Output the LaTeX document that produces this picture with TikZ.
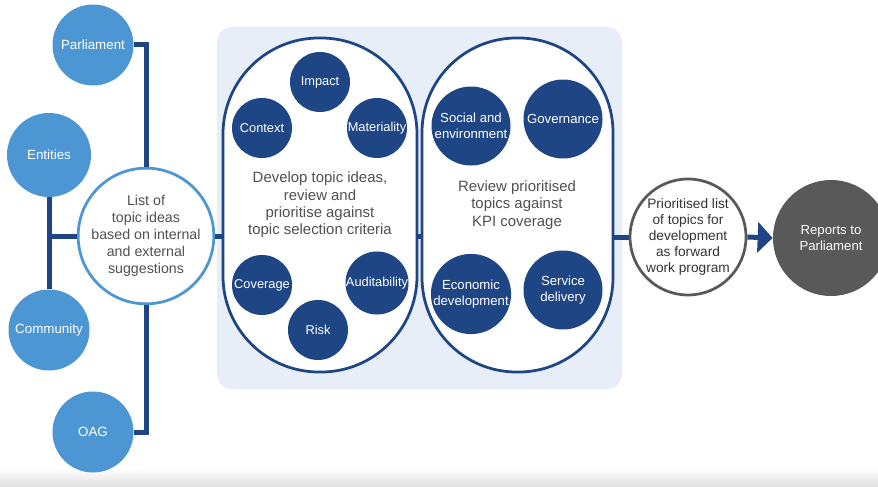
\documentclass[tikz,border=0pt]{standalone}
\usepackage{fontspec}
\setmainfont{Liberation Sans}
\usetikzlibrary{arrows.meta}

\definecolor{srcblue}{RGB}{76,150,211}
\definecolor{navy}{RGB}{30,70,132}
\definecolor{panelbg}{RGB}{232,238,247}
\definecolor{darkgrey}{RGB}{89,89,89}
\definecolor{textgrey}{RGB}{80,80,80}

\tikzset{
  source/.style={circle, fill=srcblue, text=white, minimum size=1.62cm, inner sep=0pt,
    font=\fontsize{7.6}{9}\selectfont},
  criterion/.style={circle, fill=navy, text=white, minimum size=1.2cm, inner sep=0pt,
    font=\fontsize{7.3}{8.6}\selectfont},
  theme/.style={circle, fill=navy, text=white, minimum size=1.58cm, inner sep=0pt, align=center,
    font=\fontsize{7.5}{8.8}\selectfont},
  capsule/.style={draw=navy, line width=0.055cm, fill=white, rectangle, inner sep=0pt},
  link/.style={draw=navy, line width=0.1cm},
}

\begin{document}
\begin{tikzpicture}
            \useasboundingbox (0,0) rectangle (17.560000,9.720000);
            % Shadow along the lower edge
            \shade [top color=white, bottom color=black!12] (0,0) rectangle (17.560000,0.340000);%

            % Drawing panel behind the two stages
            \fill [panelbg, rounded corners=0.300000cm] (4.340000,1.940000) rectangle (12.440000,9.180000);%

            % Marking the four sources
            \node [source] (par) at (1.860000,8.820000) {Parliament};%
            \node [source, minimum size=1.68cm] (ent) at (0.980000,6.620000) {Entities};%
            \node [source] (com) at (0.980000,3.120000) {Community};%
            \node [source] (oag) at (1.860000,1.080000) {OAG};%

            % Marking the list of ideas
            \node [circle, draw=srcblue, line width=0.055cm, fill=white, minimum size=2.68cm, inner sep=0pt,
              align=center, text=textgrey, font=\fontsize{8.1}{9.6}\selectfont]
              (list) at (2.920000,5.000000) {List of\\topic ideas\\based on internal\\and external\\suggestions};%

            % Drawing the two stages
            \node [capsule, minimum width=3.880000cm, minimum height=6.680000cm, rounded corners=1.920000cm]
              (dev) at (6.400000,5.620000) {};%
            \node [capsule, minimum width=3.820000cm, minimum height=6.680000cm, rounded corners=1.890000cm]
              (rev) at (10.350000,5.620000) {};%

            % Marking the selection criteria
            \node [criterion] (impact) at (6.400000,8.080000) {Impact};%
            \node [criterion] (context) at (5.240000,7.160000) {Context};%
            \node [criterion] (material) at (7.540000,7.160000) {Materiality};%
            \node [criterion] (coverage) at (5.240000,4.020000) {Coverage};%
            \node [criterion] (audit) at (7.540000,4.060000) {Auditability};%
            \node [criterion] (risk) at (6.360000,3.120000) {Risk};%
            \node [align=center, text=textgrey, font=\fontsize{8.5}{9.9}\selectfont] (devtext) at (6.400000,5.620000)
              {Develop topic ideas,\\review and\\prioritise against\\topic selection criteria};%

            % Marking the KPI themes
            \node [theme] (social) at (9.420000,7.200000) {Social and\\environment};%
            \node [theme] (gov) at (11.260000,7.340000) {Governance};%
            \node [theme] (econ) at (9.420000,3.840000) {Economic\\development};%
            \node [theme] (service) at (11.260000,3.920000) {Service\\delivery};%
            \node [align=center, text=textgrey, font=\fontsize{8.5}{9.9}\selectfont] (revtext) at (10.340000,5.620000)
              {Review prioritised\\topics against\\KPI coverage};%

            % Marking the work program and the reports
            \node [circle, draw=darkgrey, line width=0.055cm, fill=white, minimum size=2.320000cm, inner sep=0pt,
              align=center, text=black!80, font=\fontsize{7.8}{9.1}\selectfont]
              (prio) at (13.760000,4.980000) {Prioritised list\\of topics for\\development\\as forward\\work program};%
            \node [circle, fill=darkgrey, minimum size=2.320000cm, inner sep=0pt, align=center, text=white,
              font=\fontsize{7.5}{8.8}\selectfont] (reports) at (16.620000,4.960000) {Reports to\\Parliament};%

            % Drawing links from the sources
            \draw [link] (par.east) -| (list.north);%
            \draw [link] (oag.east) -| (list.south);%
            \draw [link] (ent.south) -- (com.north);%
            \draw [link] (list.west) -- (list.west -| ent.south);%

            % Drawing links between the stages
            \draw [link] (list.east) -- (list.east -| dev.west);%
            \draw [link] (dev.east |- list.east) -- (rev.west |- list.east);%
            \draw [link] (rev.east |- prio.west) -- (prio.west);%
            \draw [link, -{Triangle[length=0.300000cm, width=0.600000cm]}] (prio.east) -- (reports.west);%
        \end{tikzpicture}
\end{document}
